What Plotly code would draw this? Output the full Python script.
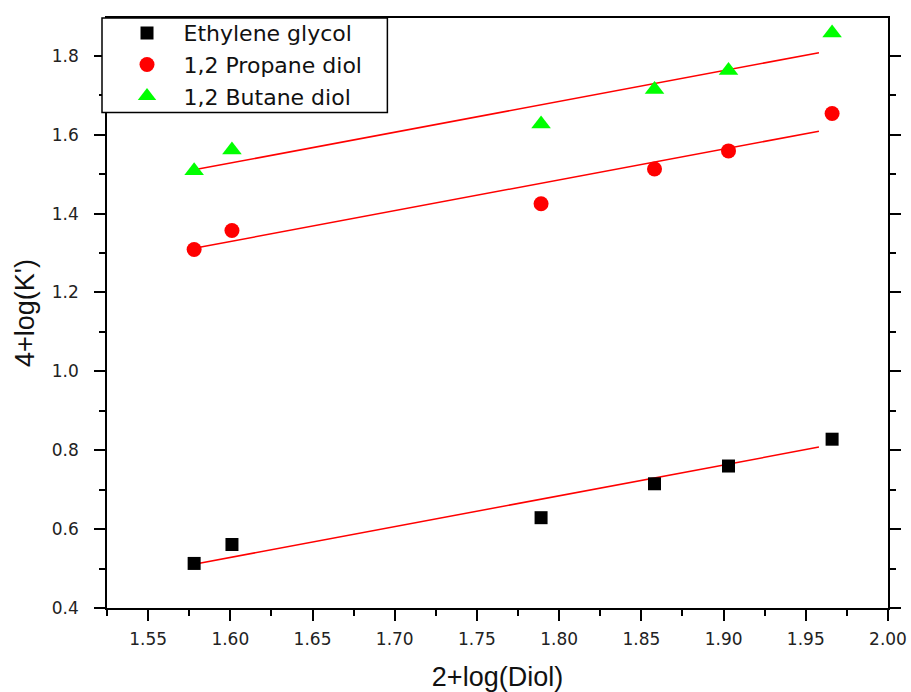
import plotly.graph_objects as go

# Data
x_vals = [1.578, 1.601, 1.789, 1.858, 1.903, 1.966]
ethylene = [0.513, 0.561, 0.629, 0.715, 0.760, 0.828]
propane = [1.309, 1.357, 1.425, 1.513, 1.559, 1.654]
butane = [1.509, 1.561, 1.627, 1.715, 1.763, 1.858]

fit_x = [1.578, 1.958]
fit_ethylene = [0.511, 0.808]
fit_propane = [1.312, 1.609]
fit_butane = [1.511, 1.808]

names = ["Ethylene glycol", "1,2 Propane diol", "1,2 Butane diol"]
x_ticks = [1.55, 1.60, 1.65, 1.70, 1.75, 1.80, 1.85, 1.90, 1.95, 2.00]
y_ticks = [0.4, 0.6, 0.8, 1.0, 1.2, 1.4, 1.6, 1.8]

fig = go.Figure()

for fy in [fit_ethylene, fit_propane, fit_butane]:
    fig.add_trace(go.Scatter(x=fit_x, y=fy, mode="lines",
                             line=dict(color="#ff0000", width=1.5),
                             showlegend=False, hoverinfo="skip"))

fig.add_trace(go.Scatter(x=x_vals, y=ethylene, mode="markers", name=names[0],
                         marker=dict(symbol="square", size=13, color="black")))
fig.add_trace(go.Scatter(x=x_vals, y=propane, mode="markers", name=names[1],
                         marker=dict(symbol="circle", size=15, color="#ff0000")))
fig.add_trace(go.Scatter(x=x_vals, y=butane, mode="markers", name=names[2],
                         marker=dict(symbol="triangle-up", size=17, color="#00ff00")))

axis_common = dict(showgrid=False, zeroline=False, showline=True, linecolor="black",
                   linewidth=1.5, ticks="outside", ticklen=11, tickwidth=1.5,
                   tickcolor="black", automargin=False,
                   tickfont=dict(family="DejaVu Sans", size=17, color="#222"))

fig.update_xaxes(range=[1.525, 2.0], tickvals=x_ticks, tickformat=".2f",
                 mirror=True,
                 minor=dict(dtick=0.025, tick0=1.525, ticklen=6, tickwidth=1.5,
                            tickcolor="black", ticks="outside"),
                 title=dict(text="2+log(Diol)", standoff=22,
                            font=dict(family="Liberation Sans", size=27, color="#111")),
                 ticklabelstandoff=4,
                 **axis_common)
fig.update_yaxes(range=[0.4, 1.896], tickvals=y_ticks, tickformat=".1f",
                 mirror="allticks",
                 minor=dict(dtick=0.1, tick0=0.4, ticklen=6, tickwidth=1.5,
                            tickcolor="black", ticks="outside"),
                 title=dict(text="4+log(K')", standoff=9,
                            font=dict(family="Liberation Sans", size=27, color="#111")),
                 ticklabelstandoff=12,
                 **axis_common)

# legend frame
fig.add_shape(type="rect", xref="paper", yref="paper",
              x0=-0.0064, x1=0.359, y0=0.840, y1=1.0,
              line=dict(color="black", width=1.5), fillcolor="white", layer="above")

fig.update_layout(
    width=911, height=692,
    margin=dict(l=107, r=23, t=14, b=84),
    paper_bgcolor="white", plot_bgcolor="white",
    showlegend=True,
    legend=dict(x=0.0045, y=1.01, xanchor="left", yanchor="top",
                bgcolor="rgba(0,0,0,0)", borderwidth=0, itemwidth=63,
                font=dict(family="DejaVu Sans", size=22, color="#111"),
                tracegroupgap=0),
)

fig.write_html("out.html", config={"displayModeBar": False},
               post_script="document.body.style.margin='0px';document.body.style.overflow='hidden';")
